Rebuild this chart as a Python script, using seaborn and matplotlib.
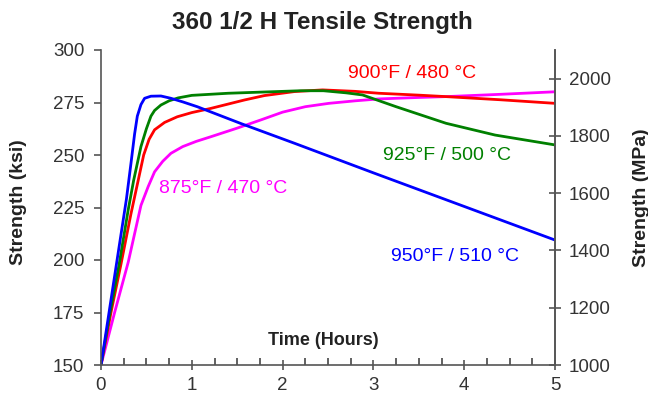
import matplotlib
matplotlib.use("Agg")
import matplotlib.pyplot as plt
from matplotlib.ticker import MultipleLocator
import seaborn as sns
import pandas as pd

# ---- data ----
t_875 = [0, 0.15, 0.30, 0.44, 0.52, 0.59, 0.68, 0.77, 0.90, 1.05, 1.21, 1.50, 1.76, 2.00, 2.25, 2.51, 2.80, 3.06, 3.50, 3.80, 4.40, 5.00]
s_875 = [150, 175, 199, 226, 235, 242, 247, 250.8, 254, 256.5, 258.7, 262.8, 266.7, 270.4, 273, 274.6, 275.8, 276.7, 277.4, 277.8, 278.9, 280.1]

t_900 = [0, 0.11, 0.22, 0.33, 0.41, 0.47, 0.53, 0.59, 0.70, 0.84, 1.00, 1.21, 1.58, 1.80, 2.13, 2.44, 2.80, 3.06, 3.50, 3.80, 4.40, 5.00]
s_900 = [150, 175, 198, 222, 238, 250, 257.5, 262, 265.5, 268.2, 270.2, 272.2, 276.2, 278.3, 280.2, 281, 280.3, 279.4, 278.5, 277.8, 276.3, 274.6]

t_925 = [0, 0.10, 0.20, 0.30, 0.36, 0.44, 0.50, 0.55, 0.59, 0.66, 0.75, 0.85, 1.00, 1.40, 2.00, 2.20, 2.45, 2.70, 2.88, 3.25, 3.80, 4.34, 5.00]
s_925 = [150, 175, 198, 224, 238, 254, 262.5, 268.5, 271.2, 273.8, 275.8, 277.2, 278.4, 279.4, 280.3, 280.6, 280.6, 279.6, 278.6, 273, 265.1, 259.5, 254.8]

t_950 = [0, 0.17, 0.28, 0.33, 0.37, 0.40, 0.44, 0.48, 0.55, 0.66, 0.77, 0.90, 1.06, 1.54, 2.13, 3.00, 4.00, 5.00]
s_950 = [150, 198, 229, 246, 260, 268.5, 274, 277, 278, 278.1, 277, 275.3, 273, 265, 255.6, 241.5, 225.5, 209.5]

series_labels = ["875°F / 470 °C", "900°F / 480 °C", "925°F / 500 °C", "950°F / 510 °C"]
series_colors = ["#FF00FF", "#FF0000", "#008000", "#0000FF"]

x_ticks = [0, 1, 2, 3, 4, 5]
left_ticks = [150, 175, 200, 225, 250, 275, 300]
right_ticks = [1000, 1200, 1400, 1600, 1800, 2000]

frames = []
for lab, t, s in zip(series_labels, [t_875, t_900, t_925, t_950], [s_875, s_900, s_925, s_950]):
    frames.append(pd.DataFrame({"Time": t, "Strength": s, "Temp": lab}))
df = pd.concat(frames, ignore_index=True)

sns.set_theme(style="white")
plt.rcParams["font.family"] = ["Liberation Sans", "DejaVu Sans"]

fig = plt.figure(figsize=(6.48, 3.96), dpi=100)
ax = fig.add_axes([101/648, 1 - 365/396, (555-101)/648, (365-50)/396])

sns.lineplot(data=df, x="Time", y="Strength", hue="Temp", hue_order=series_labels,
             palette=dict(zip(series_labels, series_colors)), linewidth=2.0,
             legend=False, ax=ax, sort=False, estimator=None)

ax2 = ax.twinx()

spine_col = "#555555"

ax.set_xlim(0, 5)
ax.set_ylim(150, 300)
ax.set_xticks(x_ticks)
ax.set_yticks(left_ticks)
ax.xaxis.set_minor_locator(MultipleLocator(0.25))
ax.tick_params(axis="x", which="minor", direction="in", length=5, width=1.3, color=spine_col, bottom=True)
ax.tick_params(axis="x", which="major", direction="inout", length=7, width=1.2, color=spine_col,
               labelsize=13.5, labelcolor="#333333", pad=5, bottom=True)
ax.tick_params(axis="y", which="major", direction="out", length=5, width=1.2, color=spine_col,
               labelsize=13.5, labelcolor="#333333", pad=7, left=True)
ax.set_xlabel("")
ax.set_ylabel("Strength (ksi)", fontsize=14, fontweight="bold", color="#222222")
ax.yaxis.set_label_coords((19 - 101) / 454, (365 - 202) / 315)
ax.yaxis.label.set_verticalalignment("center")

for side in ["left", "bottom", "right"]:
    ax.spines[side].set_color(spine_col)
    ax.spines[side].set_linewidth(1.2)
ax.spines["top"].set_visible(False)

ax2.set_ylim(1000, 2100)
ax2.set_yticks(right_ticks)
ax2.spines["top"].set_visible(False)
ax2.spines["left"].set_visible(False)
ax2.spines["bottom"].set_visible(False)
ax2.spines["right"].set_color(spine_col)
ax2.spines["right"].set_linewidth(1.2)
ax2.tick_params(axis="y", which="major", direction="inout", length=8, width=1.2, color=spine_col,
                labelsize=13.5, labelcolor="#333333", pad=6, right=True)
ax2.set_ylabel("Strength (MPa)", fontsize=14, fontweight="bold", color="#222222", rotation=90)
ax2.yaxis.set_label_coords((641 - 101) / 454, (365 - 198) / 315)
ax2.yaxis.label.set_verticalalignment("center")
ax2.grid(False)
ax.grid(False)

# annotations
ax.text(3.43, 289, series_labels[1], color=series_colors[1], fontsize=14, ha="center", va="center")
ax.text(3.81, 250, series_labels[2], color=series_colors[2], fontsize=14, ha="center", va="center")
ax.text(1.35, 234, series_labels[0], color=series_colors[0], fontsize=14, ha="center", va="center")
ax.text(3.90, 201.5, series_labels[3], color=series_colors[3], fontsize=14, ha="center", va="center")
ax.text(2.45, 161.5, "Time (Hours)", color="#222222", fontsize=13, fontweight="bold", ha="center", va="center")

fig.text(322/648, 1 - 22/396, "360 1/2 H Tensile Strength", fontsize=17.5, fontweight="bold",
         color="#222222", ha="center", va="center")

# make sure minor x ticks survive
ax.xaxis.set_minor_locator(MultipleLocator(0.25))
ax.tick_params(axis="x", which="minor", direction="in", length=5, width=1.3, color=spine_col, bottom=True)

fig.savefig("out.png", dpi=100)
